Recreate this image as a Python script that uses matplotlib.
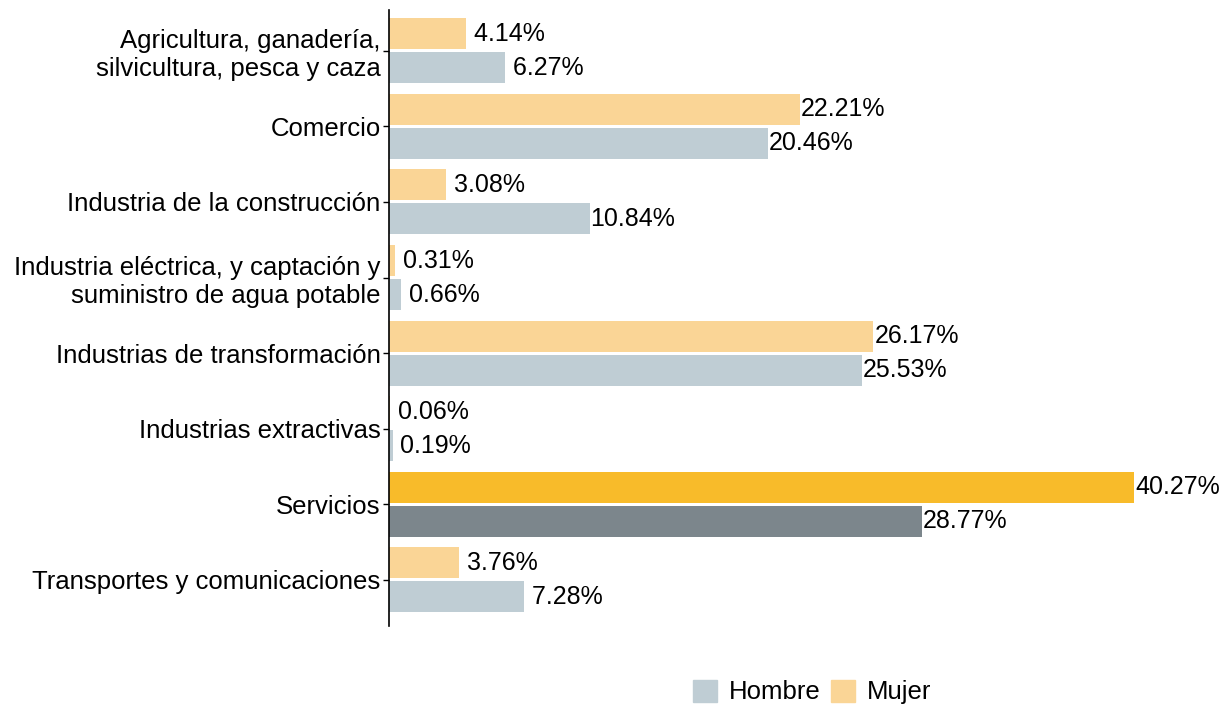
import numpy as np
import matplotlib
matplotlib.use('Agg')
from matplotlib import pyplot as plt
from matplotlib.patches import Patch

plt.rcParams['font.family'] = ['Liberation Sans', 'DejaVu Sans']

categorias = [
    "Agricultura, ganadería,\nsilvicultura, pesca y caza",
    "Comercio",
    "Industria de la construcción",
    "Industria eléctrica, y captación y\nsuministro de agua potable",
    "Industrias de transformación",
    "Industrias extractivas",
    "Servicios",
    "Transportes y comunicaciones",
]
hombre = [6.27, 20.46, 10.84, 0.66, 25.53, 0.19, 28.77, 7.28]
mujer = [4.14, 22.21, 3.08, 0.31, 26.17, 0.06, 40.27, 3.76]
destacado = "Servicios"

col_h, col_h_dest = '#BFCDD4', '#7C868C'
col_m, col_m_dest = '#FAD596', '#F8BB2A'

fig = plt.figure(figsize=(12.31, 7.09), dpi=100)
ax = fig.add_axes([389 / 1231, 83 / 709, 833 / 1231, 616 / 709])

y = np.arange(len(categorias))
h = 0.41
off = 0.225
cm = [col_m_dest if c == destacado else col_m for c in categorias]
ch = [col_h_dest if c == destacado else col_h for c in categorias]
ax.barh(y - off, mujer, height=h, color=cm)
ax.barh(y + off, hombre, height=h, color=ch)

for yi, v in zip(y, mujer):
    ax.text(v + 0.05, yi - off, f"{v:5.2f}%", va='center', ha='left', fontsize=18)
for yi, v in zip(y, hombre):
    ax.text(v + 0.05, yi + off, f"{v:5.2f}%", va='center', ha='left', fontsize=18)

ax.set_xlim(0, 45)
ax.set_ylim(7.61, -0.54)
ax.set_yticks(y)
ax.set_yticklabels(categorias, fontsize=18.5, ha='right', multialignment='right')
ax.set_xticks([])
for s in ['top', 'right', 'bottom']:
    ax.spines[s].set_visible(False)
ax.spines['left'].set_linewidth(1.2)
ax.tick_params(axis='y', length=4, width=1, pad=2)

handles = [Patch(color=col_h, label='Hombre'), Patch(color=col_m, label='Mujer')]
fig.legend(handles=handles, loc='center', bbox_to_anchor=(812 / 1231, 1 - 692 / 709),
           ncol=2, frameon=False, fontsize=18.5, handlelength=0.95, handleheight=0.95,
           handletextpad=0.45, columnspacing=0.4)

fig.savefig('out.png', dpi=100)
